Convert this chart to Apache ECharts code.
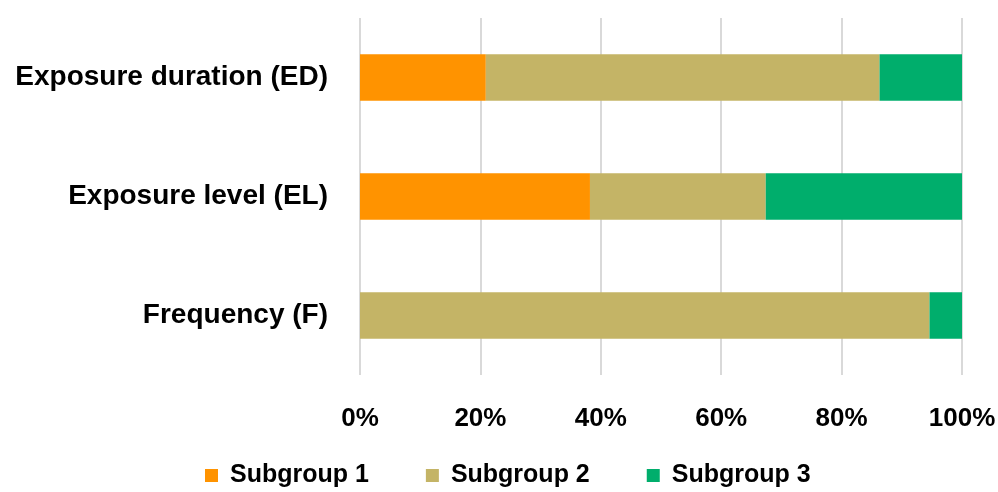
<!DOCTYPE html>
<html><head><meta charset="utf-8">
<script src="https://cdn.jsdelivr.net/npm/echarts@6/dist/echarts.min.js"></script>
<style>html,body{margin:0;padding:0;background:#fff}#c{width:998px;height:492px}</style>
</head><body><div id="c"></div>
<script>
const categories = ['Frequency (F)', 'Exposure level (EL)', 'Exposure duration (ED)'];
const subgroup1 = [0, 38.2, 20.9];
const subgroup2 = [94.6, 29.2, 65.4];
const subgroup3 = [5.4, 32.6, 13.7];
const xTicks = [0, 20, 40, 60, 80, 100];
const seriesNames = ['Subgroup 1', 'Subgroup 2', 'Subgroup 3'];
const colors = ['#FF9300', '#C4B466', '#00AE6C'];

const font = '"Liberation Sans", Arial, sans-serif';
const chart = echarts.init(document.getElementById('c'));
const mk = (name, data, i) => ({
  name, type: 'bar', stack: 'all', data, barWidth: '39%',
  itemStyle: { color: colors[i] }
});
chart.setOption({
  animation: false,
  color: colors,
  grid: { left: 360, right: 36, top: 18, bottom: 117, containLabel: false, outerBoundsMode: 'none' },
  legend: {
    top: 463, left: 205, padding: 0, itemWidth: 20, itemHeight: 13, itemGap: 57,
    icon: 'path://M0,0h13v13h-13z M20,6.5h0.01',
    textStyle: { fontFamily: font, fontWeight: 'bold', fontSize: 25, color: '#000' },
    data: seriesNames
  },
  xAxis: {
    type: 'value', min: 0, max: 100, interval: 20,
    axisLine: { show: false }, axisTick: { show: false },
    splitLine: { lineStyle: { color: '#D9D9D9', width: 2 } },
    axisLabel: { margin: 31, fontFamily: font, fontWeight: 'bold', fontSize: 26, color: '#000',
      formatter: v => xTicks.includes(v) ? v + '%' : '' }
  },
  yAxis: {
    type: 'category', data: categories,
    axisLine: { show: false }, axisTick: { show: false },
    axisLabel: { margin: 32, fontFamily: font, fontWeight: 'bold', fontSize: 28, color: '#000' }
  },
  series: [mk(seriesNames[0], subgroup1, 0), mk(seriesNames[1], subgroup2, 1), mk(seriesNames[2], subgroup3, 2)]
});
</script></body></html>
